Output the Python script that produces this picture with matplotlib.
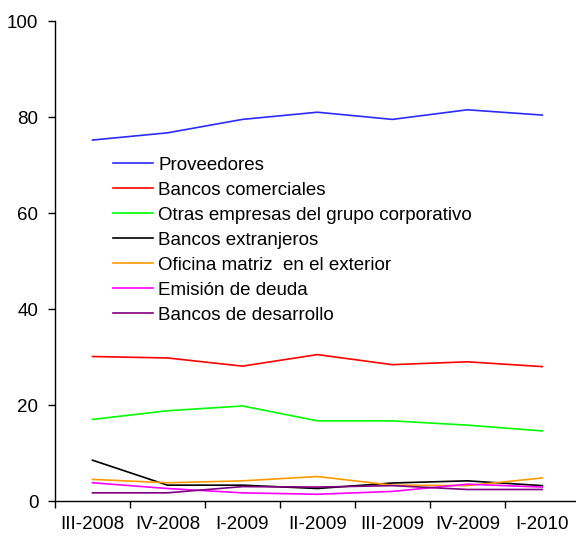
import matplotlib

matplotlib.use("Agg")
import matplotlib.pyplot as plt
import numpy as np

plt.rcParams["font.family"] = ["Liberation Sans", "DejaVu Sans"]

quarters = ["III-2008", "IV-2008", "I-2009", "II-2009", "III-2009", "IV-2009", "I-2010"]

proveedores = [75.2, 76.7, 79.5, 81.0, 79.5, 81.5, 80.4]
bancos_comerciales = [30.1, 29.8, 28.1, 30.5, 28.4, 29.0, 28.0]
otras_empresas = [17.0, 18.8, 19.8, 16.7, 16.7, 15.8, 14.6]
bancos_extranjeros = [8.5, 3.3, 3.3, 2.6, 3.75, 4.2, 3.2]
oficina_matriz = [4.5, 3.8, 4.2, 5.1, 3.3, 3.2, 4.8]
emision_deuda = [3.8, 2.6, 1.7, 1.4, 2.0, 3.5, 2.9]
bancos_desarrollo = [1.7, 1.7, 3.0, 2.9, 3.2, 2.4, 2.4]

series = [
    ("Proveedores", proveedores, "#2b2bff"),
    ("Bancos comerciales", bancos_comerciales, "#ff0000"),
    ("Otras empresas del grupo corporativo", otras_empresas, "#00ff00"),
    ("Bancos extranjeros", bancos_extranjeros, "#000000"),
    ("Oficina matriz  en el exterior", oficina_matriz, "#ff9900"),
    ("Emisión de deuda", emision_deuda, "#ff00ff"),
    ("Bancos de desarrollo", bancos_desarrollo, "#800080"),
]

W, H = 576, 536
fs = 13.5
fig = plt.figure(figsize=(W / 100, H / 100), dpi=100)
ax = fig.add_axes([55 / W, (H - 501) / H, (W - 55) / W, 480 / H])

x = np.arange(len(quarters))
for label, vals, color in series:
    ax.plot(x, vals, color=color, lw=1.2, label=label)

ax.set_ylim(0, 100)
ax.set_yticks(np.arange(0, 101, 20))
ax.set_xlim(-0.5, 6.45)
ax.set_xticks(np.arange(-0.5, 6.0, 1.0))
ax.set_xticklabels([])
ax.set_xticks(x, minor=True)
ax.set_xticklabels(quarters, minor=True)
ax.tick_params(axis="x", which="minor", length=0, pad=11, labelsize=fs)
ax.tick_params(axis="x", which="major", length=5, width=1, direction="out")
ax.tick_params(axis="y", length=5, width=1, direction="out", labelsize=fs, pad=7)

for s in ("top", "right"):
    ax.spines[s].set_visible(False)
for s in ("left", "bottom"):
    ax.spines[s].set_linewidth(1)

leg = ax.legend(
    loc="upper left",
    bbox_to_anchor=(113 / W, (H - 156.5) / H),
    bbox_transform=fig.transFigure,
    frameon=False,
    fontsize=fs,
    handlelength=2.13,
    handletextpad=0.27,
    labelspacing=0.42,
    borderpad=0,
    borderaxespad=0,
)

fig.savefig("out.png", dpi=100)
